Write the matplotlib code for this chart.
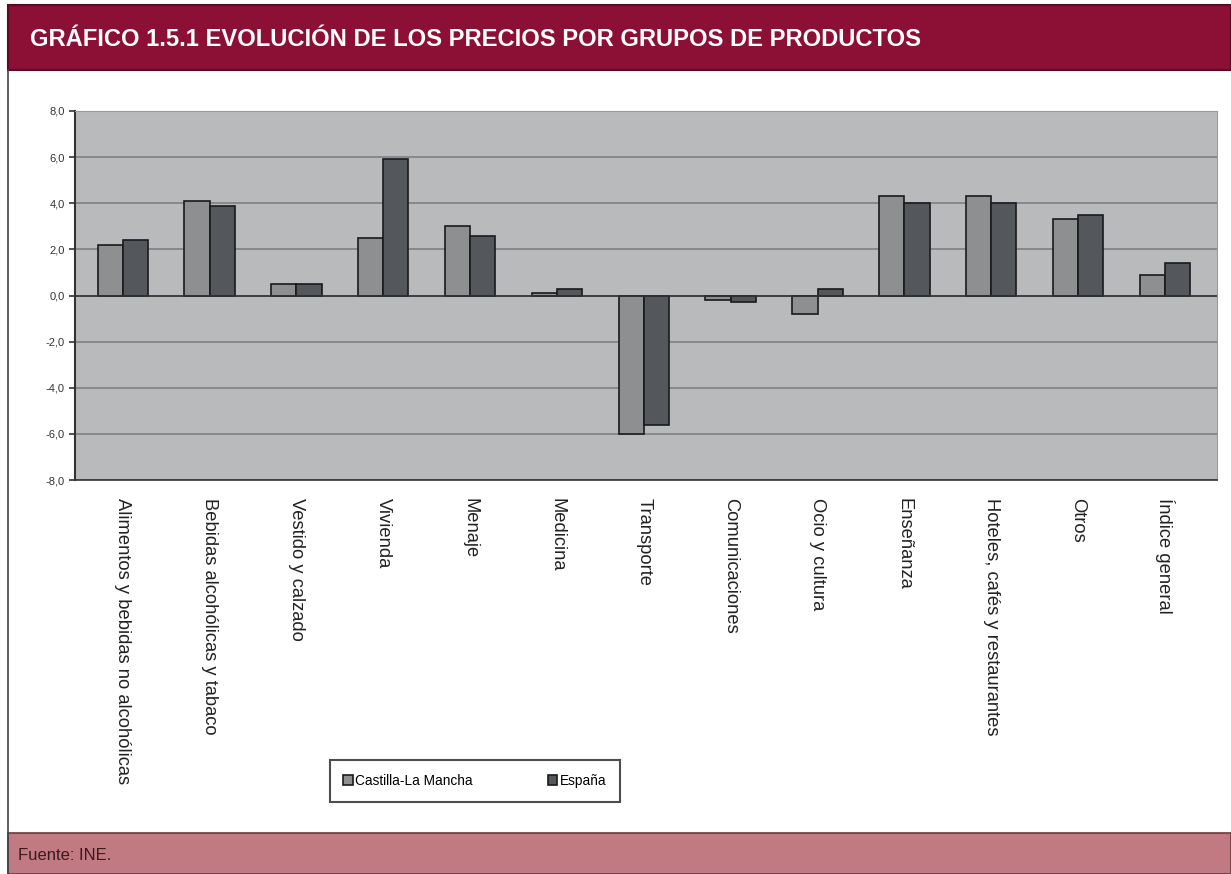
import matplotlib
matplotlib.use("Agg")
import matplotlib.pyplot as plt
import numpy as np
from matplotlib.patches import Rectangle
from matplotlib.ticker import FuncFormatter

categories = ["Alimentos y bebidas no alcohólicas", "Bebidas alcohólicas y tabaco",
              "Vestido y calzado", "Vivienda", "Menaje", "Medicina", "Transporte",
              "Comunicaciones", "Ocio y cultura", "Enseñanza",
              "Hoteles, cafés y restaurantes", "Otros", "Índice general"]
clm = [2.2, 4.1, 0.5, 2.5, 3.0, 0.1, -6.0, -0.2, -0.8, 4.3, 4.3, 3.3, 0.9]
espana = [2.4, 3.9, 0.5, 5.9, 2.6, 0.3, -5.6, -0.3, 0.3, 4.0, 4.0, 3.5, 1.4]
series_names = ["Castilla-La Mancha", "España"]
yticks = [-8, -6, -4, -2, 0, 2, 4, 6, 8]

FONT = ["Liberation Sans", "DejaVu Sans"]

W, H = 1231, 874
fig = plt.figure(figsize=(W / 100, H / 100), dpi=100)
fig.patch.set_facecolor("white")

def fx(px):
    return px / W

def fy(py):
    return 1 - py / H

# Banner
fig.patches.append(Rectangle((fx(8), fy(70)), fx(1231 - 8), 65 / H, transform=fig.transFigure,
                             facecolor="#8c0f36", edgecolor="#5a0a22", lw=1.5, zorder=0))
fig.text(fx(30), fy(39), "GRÁFICO 1.5.1 EVOLUCIÓN DE LOS PRECIOS POR GRUPOS DE PRODUCTOS",
         color="white", fontsize=17.1, fontweight="bold", va="center", ha="left",
         family=FONT)
# Footer
fig.patches.append(Rectangle((fx(8), 0), fx(1231 - 8), 41 / H, transform=fig.transFigure,
                             facecolor="#c27a82", edgecolor="#6a3a3e", lw=1.2, zorder=0))
fig.text(fx(18), fy(855), "Fuente: INE.", color="#3a1a1e", fontsize=12, va="center", ha="left",
         family=FONT)
# Left border
fig.add_artist(plt.Line2D([fx(8), fx(8)], [fy(874), fy(70)], transform=fig.transFigure,
                          color="#444444", lw=1.2))

ax = fig.add_axes([fx(75), fy(480), fx(1217 - 75), (480 - 111) / H])
ax.set_facecolor("#b8babc")
x = np.arange(len(categories))
w = 0.29
ax.bar(x - w / 2, clm, w, color="#8e8f91", edgecolor="#1a1a1a", lw=1.2, zorder=3,
       label=series_names[0])
ax.bar(x + w / 2, espana, w, color="#54585c", edgecolor="#1a1a1a", lw=1.2, zorder=3,
       label=series_names[1])
ax.axhline(0, color="#333333", lw=1.2, zorder=4)
ax.set_ylim(-8, 8)
ax.set_xlim(-0.55, len(categories) - 0.4)
ax.set_yticks(yticks)
ax.yaxis.set_major_formatter(FuncFormatter(lambda v, p: f"{v:.1f}".replace(".", ",")))
ax.grid(axis="y", color="#7e8082", lw=1.2, zorder=1)
ax.set_xticks(x)
ax.set_xticklabels(categories, rotation=270, ha="center", va="top", fontsize=13.2,
                   family=FONT, color="#222222")
ax.tick_params(axis="x", length=0, pad=13)
ax.tick_params(axis="y", labelsize=8, colors="#333333", length=4, width=1.2)
for lab in ax.get_yticklabels():
    lab.set_family(FONT)
for s in ["top", "right"]:
    ax.spines[s].set_color("#9a9a9a")
ax.spines["left"].set_color("#333333")
ax.spines["left"].set_linewidth(1.5)
ax.spines["bottom"].set_color("#333333")
ax.spines["bottom"].set_linewidth(1.2)

leg = fig.legend(loc="center", bbox_to_anchor=(fx(475), fy(781)), ncol=2, frameon=True,
                 handlelength=0.7, handleheight=0.7, columnspacing=5.5,
                 handletextpad=0.2, borderpad=1.0, fancybox=False, edgecolor="#222222",
                 prop={"family": FONT, "size": 9.8})
leg.get_frame().set_linewidth(1.5)

fig.savefig("out.png", dpi=100)
